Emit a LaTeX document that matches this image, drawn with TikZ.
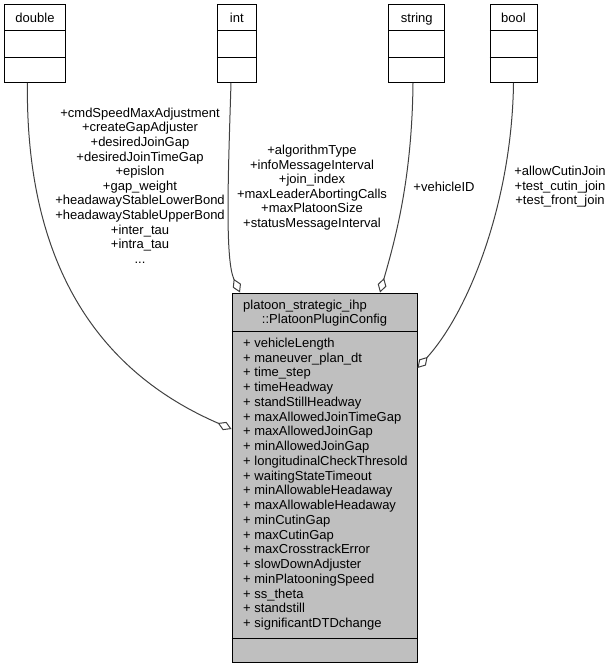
\documentclass[tikz,border=0pt]{standalone}
\usepackage{fontspec}
\setmainfont{Liberation Sans}
\usetikzlibrary{arrows.meta}

\begin{document}
\begin{tikzpicture}[x=1pt, y=-1pt,
    typebox/.style={draw, line width=1pt, minimum height=77.3pt, inner sep=0pt},
    classbox/.style={draw, line width=1pt, fill=grey75, minimum width=185pt, minimum height=369pt, inner sep=0pt},
    member/.style={anchor=base west, inner sep=0pt},
    memberlist/.style={align=center, inner sep=0pt},
    uses/.style={draw=edgegrey, line width=1pt, -{Diamond[open, length=15pt, width=9pt]}}]
    \fontsize{13}{14.6}\selectfont
    \definecolor{grey75}{RGB}{191,191,191}
    \definecolor{edgegrey}{RGB}{64,64,64}
    \useasboundingbox (0,0) rectangle (611,668);

    % member types
    \foreach \tname/\tx/\tw in {double/35/61, int/236.8/39, string/416.8/56, bool/513.5/47}{
      \node[typebox, minimum width=\tw pt] (\tname) at (\tx,43.65) {};
      \node[anchor=base, inner sep=0pt] (\tname head) at ([yshift=-18pt]\tname.north) {\tname};
      \draw[line width=1pt] ([yshift=-26.3pt]\tname.north west) -- ([yshift=-26.3pt]\tname.north east);
      \draw[line width=1pt] ([yshift=25.6pt]\tname.south west) -- ([yshift=25.6pt]\tname.south east);
    }

    % config class
    \node[classbox] (main) at (324.5,477.5) {};
    \draw[line width=1pt] ([yshift=-39pt]main.north west) -- ([yshift=-39pt]main.north east);
    \draw[line width=1pt] ([yshift=24pt]main.south west) -- ([yshift=24pt]main.south east);
    \node[member] (mainhead) at (243,309.5) {platoon\_strategic\_ihp};
    \node[anchor=base, inner sep=0pt] (mainname) at (324.5,323.5) {::PlatoonPluginConfig};
    \foreach \attr [count=\i from 0] in {vehicleLength, maneuver\_plan\_dt, time\_step, timeHeadway,
        standStillHeadway, maxAllowedJoinTimeGap, maxAllowedJoinGap, minAllowedJoinGap,
        longitudinalCheckThresold, waitingStateTimeout, minAllowableHeadaway, maxAllowableHeadaway,
        minCutinGap, maxCutinGap, maxCrosstrackError, slowDownAdjuster, minPlatooningSpeed,
        ss\_theta, standstill, significantDTDchange}
      \node[member] (attr\i) at (243,347.5+14.74*\i) {+ \attr};

    % edge labels
    \node[memberlist] (doublevars) at (140,185.5) {+cmdSpeedMaxAdjustment\\+createGapAdjuster\\+desiredJoinGap\\+desiredJoinTimeGap\\+epislon\\+gap\_weight\\+headawayStableLowerBond\\+headawayStableUpperBond\\+inter\_tau\\+intra\_tau\\...};
    \node[memberlist] (intvars) at (312,187.6) {+algorithmType\\+infoMessageInterval\\+join\_index\\+maxLeaderAbortingCalls\\+maxPlatoonSize\\+statusMessageInterval};
    \node[memberlist] (stringvars) at (444,186.8) {+vehicleID};
    \node[memberlist] (boolvars) at (560,187) {+allowCutinJoin\\+test\_cutin\_join\\+test\_front\_join};

    % usage edges
    \draw[uses] ([xshift=-7.6pt]double.south) .. controls (25,300) and (130,385) .. ([yshift=48.5pt]main.west);
    \draw[uses] ([xshift=-5.8pt]int.south) .. controls (228,180) and (225,260) .. ([xshift=-84.5pt]main.north);
    \draw[uses] ([xshift=-3.8pt]string.south) .. controls (412,180) and (395,240) .. ([xshift=55.5pt]main.north);
    \draw[uses] (bool.south) .. controls (512,200) and (470,310) .. ([yshift=109.5pt]main.east);
\end{tikzpicture}
\end{document}
